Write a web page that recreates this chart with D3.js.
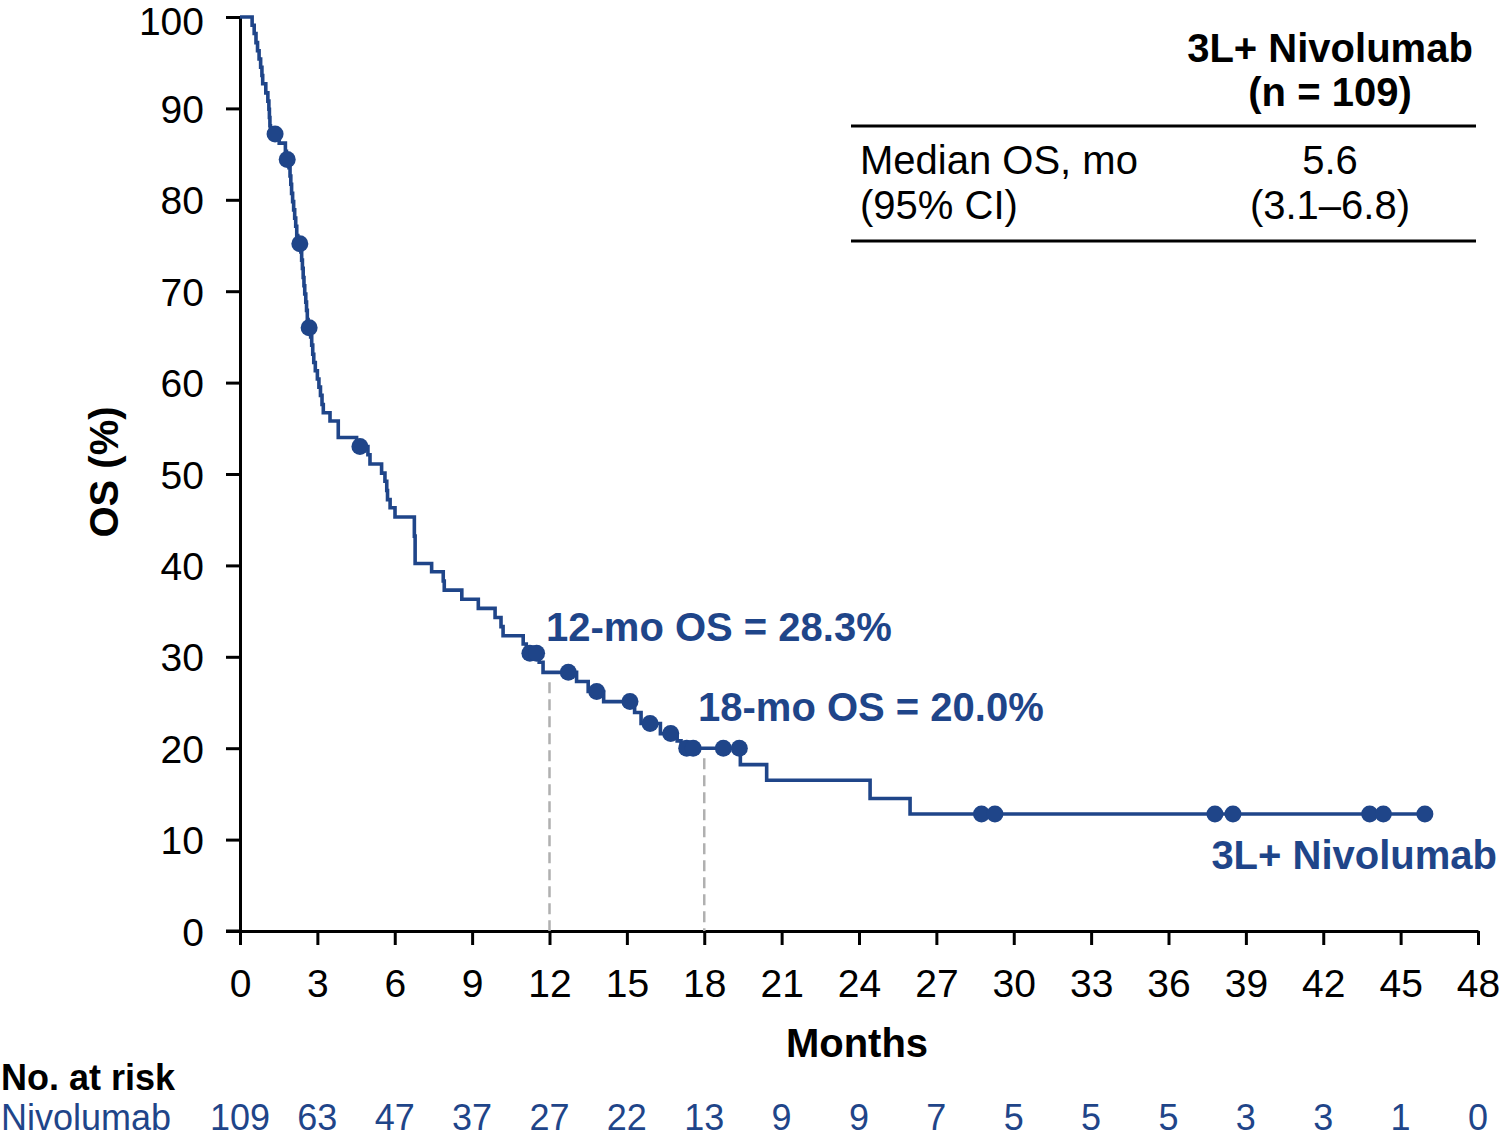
<!DOCTYPE html>
<html>
<head>
<meta charset="utf-8">
<script src="https://cdn.jsdelivr.net/npm/d3@7"></script>
<style>
  html, body { margin: 0; padding: 0; background: #fff; }
  svg { display: block; font-family: "Liberation Sans", Arial, Helvetica, sans-serif; }
</style>
</head>
<body>
<svg id="chart" width="1500" height="1139"></svg>
<script>
// ---- Data ----
const stepTimes = [0, 0.47, 0.55, 0.62, 0.68, 0.74, 0.80, 0.85, 0.88,
  1.00, 1.08, 1.12, 1.14, 1.16, 1.18,
  1.52, 1.76, 1.80,
  1.90, 1.94, 1.97, 2.00, 2.04, 2.08, 2.12, 2.16, 2.20, 2.24,
  2.36, 2.39, 2.42, 2.45, 2.48, 2.51, 2.55, 2.58, 2.61, 2.64,
  2.74, 2.78, 2.82, 2.86, 2.92, 3.00, 3.06, 3.12, 3.18, 3.23,
  3.49, 3.81, 4.52,
  4.96, 5.04, 5.49, 5.62, 5.69, 5.72, 5.82, 6.01,
  6.76, 6.79, 7.43, 7.88, 7.92, 8.60, 9.24, 9.89, 10.12, 10.20, 10.98, 11.10,
  11.60, 11.75, 13.05, 13.50, 14.10, 15.30, 15.55, 16.30, 16.95, 17.10,
  19.40, 20.42, 24.43, 25.98, 45.94];
const stepSurv = [100, 99.1, 98.2, 97.2, 96.3, 95.4, 94.5, 93.6, 92.7,
  91.7, 90.8, 89.9, 89.0, 88.1, 87.2,
  86.2, 85.3, 84.4,
  83.5, 82.6, 81.7, 80.7, 79.8, 78.9, 78.0, 77.1, 76.1, 75.2,
  74.3, 73.4, 72.5, 71.5, 70.6, 69.7, 68.8, 67.9, 66.9, 66.0,
  65.0, 64.1, 63.1, 62.2, 61.3, 60.4, 59.5, 58.6, 57.6, 56.7,
  55.8, 54.0, 53.0,
  52.1, 51.1, 50.1, 49.2, 48.2, 47.2, 46.3, 45.3,
  43.2, 40.2, 39.3, 38.3, 37.3, 36.3, 35.3, 34.3, 33.3, 32.3, 31.4, 30.4,
  29.4, 28.3, 27.3, 26.2, 25.1, 23.9, 22.7, 21.6, 20.8, 20.0,
  18.2, 16.5, 14.5, 12.8, 12.8];
const censorTimes = [1.36, 1.83, 2.32, 2.68, 4.65, 11.24, 11.50, 12.73, 13.83, 15.12, 15.90, 16.70,
  17.32, 17.57, 18.74, 19.36, 28.75, 29.27, 37.80, 38.50, 43.80, 44.33, 45.94];
const censorSurv = [87.2, 84.4, 75.2, 66.0, 53.0, 30.4, 30.4, 28.3, 26.2, 25.1, 22.7, 21.6,
  20.0, 20.0, 20.0, 20.0, 12.8, 12.8, 12.8, 12.8, 12.8, 12.8, 12.8];
const xTicks = [0, 3, 6, 9, 12, 15, 18, 21, 24, 27, 30, 33, 36, 39, 42, 45, 48];
const yTicks = [0, 10, 20, 30, 40, 50, 60, 70, 80, 90, 100];
const atRisk = [109, 63, 47, 37, 27, 22, 13, 9, 9, 7, 5, 5, 5, 3, 3, 1, 0];
const milestoneTimes = [12, 18];
const milestoneSurv = [28.3, 20.0];
const milestoneLabels = ["12-mo OS = 28.3%", "18-mo OS = 20.0%"];
const tableHeader = ["3L+ Nivolumab", "(n = 109)"];
const tableRowLabels = ["Median OS, mo", "(95% CI)"];
const tableRowValues = ["5.6", "(3.1\u20136.8)"];

// ---- Drawing ----
const blue = "#1f4589";
const svg = d3.select("#chart");
const x = d3.scaleLinear().domain([0, 48]).range([240, 1478]);
const y = d3.scaleLinear().domain([0, 100]).range([931, 17]);

// axes
const xAxis = svg.append("g").attr("transform", `translate(0,${y(0)})`)
  .call(d3.axisBottom(x).tickValues(xTicks).tickSize(14).tickSizeOuter(0).tickPadding(24));
const yAxis = svg.append("g").attr("transform", `translate(${x(0)},0)`)
  .call(d3.axisLeft(y).tickValues(yTicks).tickSize(14).tickSizeOuter(0).tickPadding(22));
[xAxis, yAxis].forEach(g => {
  g.select(".domain").attr("stroke", "#000").attr("stroke-width", 3);
  g.selectAll(".tick line").attr("stroke", "#000").attr("stroke-width", 3);
  g.selectAll(".tick text").attr("fill", "#000").attr("font-size", 39)
    .attr("font-family", "Liberation Sans, Arial, sans-serif");
});
xAxis.selectAll(".tick text").attr("dy", "0.71em");
yAxis.selectAll(".tick text").attr("dy", d => d === 100 ? "0.46em" : "0.36em");
// extend the x axis line to the left to meet the 0 tick
svg.append("line").attr("x1", x(0) - 14).attr("x2", x(0)).attr("y1", y(0)).attr("y2", y(0))
  .attr("stroke", "#000").attr("stroke-width", 3);

// dashed milestone lines
milestoneTimes.forEach((t, i) => {
  svg.append("line")
    .attr("x1", x(t)).attr("x2", x(t))
    .attr("y1", y(milestoneSurv[i]) + 10).attr("y2", y(0))
    .attr("stroke", "#b0b0b0").attr("stroke-width", 2.5)
    .attr("stroke-dasharray", "11,6");
});

// KM curve
const pts = stepTimes.map((t, i) => [t, stepSurv[i]]);
svg.append("path")
  .datum(pts)
  .attr("d", d3.line().x(d => x(d[0])).y(d => y(d[1])).curve(d3.curveStepAfter))
  .attr("fill", "none").attr("stroke", blue).attr("stroke-width", 3.6);

// censor marks
svg.selectAll("circle.c").data(censorTimes.map((t, i) => [t, censorSurv[i]]))
  .enter().append("circle").attr("class", "c")
  .attr("cx", d => x(d[0])).attr("cy", d => y(d[1])).attr("r", 8.5)
  .attr("fill", blue);

// milestone labels
const mlPos = [[546, 641], [698, 721]];
milestoneLabels.forEach((s, i) => {
  svg.append("text").attr("x", mlPos[i][0]).attr("y", mlPos[i][1])
    .attr("font-size", 40).attr("font-weight", "bold").attr("fill", blue).text(s);
});

// series label
svg.append("text").attr("x", 1497).attr("y", 869).attr("text-anchor", "end")
  .attr("font-size", 40).attr("font-weight", "bold").attr("fill", blue).text("3L+ Nivolumab");

// axis titles
svg.append("text").attr("x", 857).attr("y", 1057).attr("text-anchor", "middle")
  .attr("font-size", 40).attr("font-weight", "bold").attr("fill", "#000").text("Months");
svg.append("text").attr("transform", "translate(118,472) rotate(-90)").attr("text-anchor", "middle")
  .attr("font-size", 40).attr("font-weight", "bold").attr("fill", "#000").text("OS (%)");

// summary table
const tcx = 1330;
tableHeader.forEach((s, i) => {
  svg.append("text").attr("x", tcx).attr("y", [62, 106][i]).attr("text-anchor", "middle")
    .attr("font-size", 40).attr("font-weight", "bold").attr("fill", "#000").text(s);
});
[126, 241].forEach(yy => {
  svg.append("line").attr("x1", 851).attr("x2", 1476).attr("y1", yy).attr("y2", yy)
    .attr("stroke", "#000").attr("stroke-width", 3);
});
tableRowLabels.forEach((s, i) => {
  svg.append("text").attr("x", 860).attr("y", [174, 219][i])
    .attr("font-size", 40).attr("fill", "#000").text(s);
});
tableRowValues.forEach((s, i) => {
  svg.append("text").attr("x", tcx).attr("y", [174, 219][i]).attr("text-anchor", "middle")
    .attr("font-size", 40).attr("fill", "#000").text(s);
});

// number at risk
svg.append("text").attr("x", 1).attr("y", 1090)
  .attr("font-size", 36).attr("font-weight", "bold").attr("fill", "#000").text("No. at risk");
svg.append("text").attr("x", 1).attr("y", 1130)
  .attr("font-size", 36).attr("fill", blue).text("Nivolumab");
svg.selectAll("text.risk").data(atRisk).enter().append("text").attr("class", "risk")
  .attr("x", (d, i) => x(xTicks[i])).attr("y", 1130).attr("text-anchor", "middle")
  .attr("font-size", 36).attr("fill", blue).text(d => d);
</script>
</body>
</html>
